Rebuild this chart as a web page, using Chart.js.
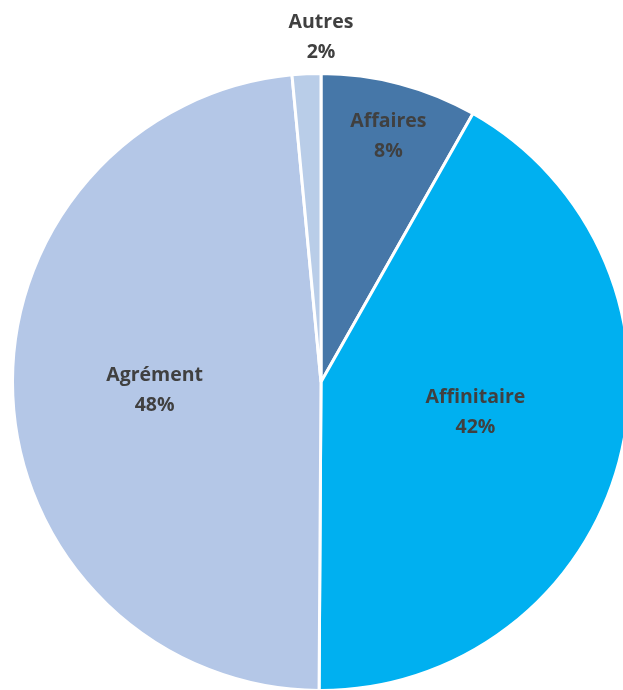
<!DOCTYPE html>
<html>
<head>
<meta charset="utf-8">
<script src="https://cdn.jsdelivr.net/npm/chart.js@4/dist/chart.umd.min.js"></script>
<style>
  html, body { margin: 0; padding: 0; background: #fff; overflow: hidden; }
  #wrap { position: absolute; left: 0; top: 0; width: 660px; height: 720px; }
</style>
</head>
<body>
<div id="wrap"><canvas id="pie"></canvas></div>
<script>
// Data
const categories = ['Affaires', 'Affinitaire', 'Agrément', 'Autres'];
const shares = [8.2, 41.9, 48.4, 1.5];
const percentLabels = ['8%', '42%', '48%', '2%'];
const sliceColors = ['#4677A8', '#00B0F0', '#B4C7E7', '#B9CDE8'];

// label placement: fraction of radius + angle nudge (degrees)
const labelPlacement = [
    { r: 0.83, a: 0.5 },
    { r: 0.51, a: -4 },
    { r: 0.54, a: 0 },
    { r: 1.12, a: 2.7 }
];

const sliceLabels = {
    id: 'sliceLabels',
    afterDatasetsDraw(chart) {
        const ctx = chart.ctx;
        const arcs = chart.getDatasetMeta(0).data;
        ctx.save();
        ctx.font = 'bold 19.5px "Open Sans", sans-serif';
        ctx.fillStyle = '#404040';
        ctx.textAlign = 'center';
        ctx.textBaseline = 'middle';
        arcs.forEach((arc, i) => {
            const p = labelPlacement[i];
            const mid = (arc.startAngle + arc.endAngle) / 2 + p.a * Math.PI / 180;
            const r = arc.outerRadius * p.r;
            const x = arc.x + Math.cos(mid) * r;
            const y = arc.y + Math.sin(mid) * r;
            ctx.fillText(categories[i], x, y - 14);
            ctx.fillText(percentLabels[i], x, y + 16);
        });
        ctx.restore();
    }
};

new Chart(document.getElementById('pie'), {
    type: 'pie',
    data: {
        labels: categories,
        datasets: [{
            data: shares,
            backgroundColor: sliceColors,
            borderColor: '#ffffff',
            borderWidth: 3
        }]
    },
    options: {
        responsive: true,
        maintainAspectRatio: false,
        animation: false,
        layout: { padding: { left: 11, top: 72, right: 29, bottom: 28 } },
        plugins: {
            legend: { display: false },
            tooltip: { enabled: false }
        }
    },
    plugins: [sliceLabels]
});
</script>
</body>
</html>
